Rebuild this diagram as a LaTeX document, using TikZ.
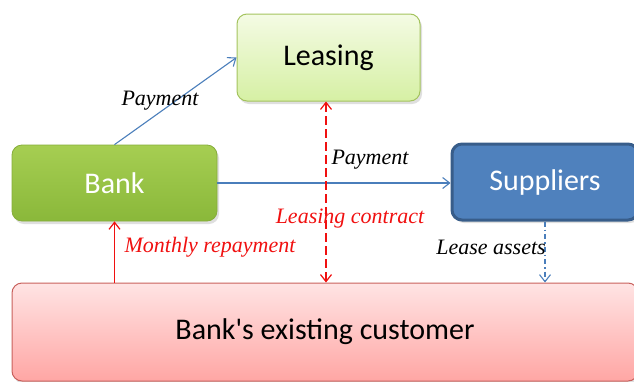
\documentclass[tikz,border=0pt]{standalone}
\usepackage{fontspec}
\setmainfont{Liberation Serif}
\newfontfamily\boxfont{Carlito}
\usetikzlibrary{arrows.meta,shadows}

\definecolor{leaseTop}{HTML}{F4FBE4}
\definecolor{leaseBot}{HTML}{D6F0A4}
\definecolor{leaseLine}{HTML}{A4C35E}
\definecolor{bankTop}{HTML}{A6CE52}
\definecolor{bankBot}{HTML}{8AB83A}
\definecolor{bankLine}{HTML}{86AD3A}
\definecolor{supFill}{HTML}{4F81BD}
\definecolor{supLine}{HTML}{385D8A}
\definecolor{custTop}{HTML}{FFE4E4}
\definecolor{custBot}{HTML}{FFA6A4}
\definecolor{custLine}{HTML}{C8605C}
\definecolor{flowBlue}{HTML}{4A7EBB}
\definecolor{flowRed}{HTML}{F01010}

\tikzset{
  box/.style={rounded corners=10pt, inner sep=0pt, font=\boxfont\fontsize{30}{34}\selectfont,
    drop shadow={shadow xshift=2pt, shadow yshift=-3pt, opacity=0.25}},
  lbl/.style={font=\itshape\fontsize{22}{25}\selectfont},
  tip/.style={-{Straight Barb[length=7pt,width=11pt]}},
  bluearrow/.style={tip, draw=flowBlue, line width=1.1pt},
  redarrow/.style={tip, draw=flowRed, line width=1.2pt}
}

\begin{document}
\begin{tikzpicture}[x=1pt,y=-1pt]
  \useasboundingbox (0,0) rectangle (634,381);
  \clip (0,0) rectangle (634,381);

  % boxes
  \node[box, top color=leaseTop, bottom color=leaseBot, draw=leaseLine, line width=1pt,
        minimum width=183pt, minimum height=87pt] (leasing) at (328.5,57.5) {Leasing};
  \node[box, top color=bankTop, bottom color=bankBot, draw=bankLine, line width=0.8pt,
        text=white, minimum width=205pt, minimum height=76pt] (bank) at (114.5,183) {Bank};
  \node[box, fill=supFill, draw=supLine, line width=3pt, text=white,
        minimum width=186pt, minimum height=76pt] (sup) at (545,182) {Suppliers};
  \node[box, top color=custTop, bottom color=custBot, draw=custLine, line width=1pt,
        minimum width=626pt, minimum height=98pt] (cust) at (325,332) {Bank's existing customer};

  % payment flows
  \draw[bluearrow] (bank.north) -- (leasing.west);
  \draw[bluearrow] (bank.east) -- (bank.east -| sup.west);
  \draw[bluearrow, dash pattern=on 5pt off 3pt on 1.5pt off 3pt]
        (sup.south) -- (sup.south |- cust.north);

  % contract and repayment
  \draw[redarrow, {Straight Barb[length=7pt,width=11pt]}-{Straight Barb[length=7pt,width=11pt]},
        dash pattern=on 9pt off 4pt] (leasing.south -| 326,0) -- (cust.north -| 326,0);
  \draw[redarrow] (cust.north -| bank.south) -- (bank.south);

  % labels
  \node[lbl] (l1) at (160,101) {Payment};
  \node[lbl] (l2) at (370,160) {Payment};
  \node[lbl, text=flowRed] (l3) at (350,219) {Leasing contract};
  \node[lbl, text=flowRed] (l4) at (210,247) {Monthly repayment};
  \node[lbl] (l5) at (491,247) {Lease assets};
\end{tikzpicture}
\end{document}
